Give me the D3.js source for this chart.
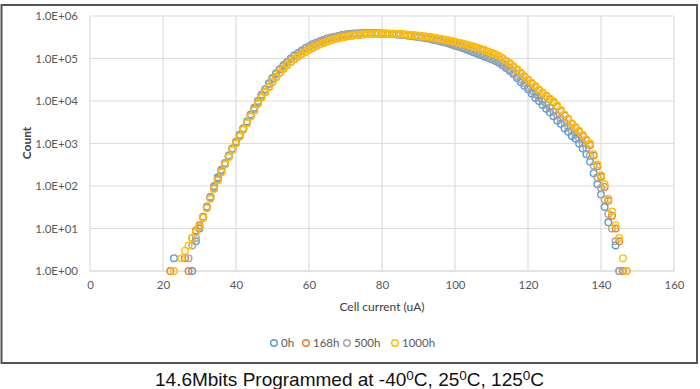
<!DOCTYPE html>
<html>
<head>
<meta charset="utf-8">
<script src="https://cdn.jsdelivr.net/npm/d3@7"></script>
<style>
  body { margin: 0; background: #fff; }
  svg { display: block; }
</style>
</head>
<body>
<svg id="chart" width="700" height="389"></svg>
<script>
// cell current (uA), one point per step
var current = [22,23,24,25,26,27,28,29,30,31,32,33,34,35,36,37,38,39,40,41,42,43,44,45,46,47,48,49,50,
  51,52,53,54,55,56,57,58,59,60,61,62,63,64,65,66,67,68,69,70,71,72,73,74,75,76,77,78,79,80,
  81,82,83,84,85,86,87,88,89,90,91,92,93,94,95,96,97,98,99,100,101,102,103,104,105,106,107,108,109,110,
  111,112,113,114,115,116,117,118,119,120,121,122,123,124,125,126,127,128,129,130,131,132,133,134,135,136,137,138,139,140,
  141,142,143,144,145,146,147];

var count0h = [null,2,null,null,null,null,1,5,10,18,32,56,100,160,240,350,520,760,1100,1600,2300,3300,4800,6900,10000,14000,19000,26000,35000,
  45000,56000,69000,83000,100000,120000,135000,155000,175000,195000,215000,235000,255000,275000,295000,310000,325000,340000,355000,365000,375000,385000,390000,395000,400000,400000,400000,398000,395000,390000,
  385000,380000,375000,370000,363000,355000,347000,339000,331000,320000,310000,300000,290000,278000,265000,252000,240000,227000,214000,200000,188000,176000,164000,152000,141000,131000,121000,112000,104000,96000,
  88000,79000,69000,60000,51000,43000,35000,28000,23000,19000,15000,12000,10000,8100,6600,5400,4400,3500,2900,2300,1900,1500,1300,1000,760,560,370,200,110,63,
  32,14,null,4,1,null,null];

var count168h = [1,null,null,null,2,1,6,9,12,19,31,52,88,140,215,330,490,720,1020,1480,2150,3050,4400,6100,8700,12200,16300,21500,28500,
  36500,46500,58000,70000,83000,97000,111000,127000,144000,162000,180000,198000,216000,234000,252000,269000,286000,301000,315000,328000,339000,349000,357000,364000,370000,375000,378000,381000,383000,384000,
  384000,383000,381000,378000,374000,369000,363000,356000,349000,342000,334000,325000,316000,307000,297000,287000,277000,266000,255000,244000,233000,222000,211000,200000,189000,178000,167000,156000,145000,134000,
  124000,113000,100000,87000,75000,64000,54000,45000,37000,31000,26000,21500,18000,15300,13000,11000,9300,7400,5800,4600,3700,2900,2350,1900,1500,1180,920,520,290,165,
  95,45,20,10,5,1,1];

var count500h = [null,null,null,null,null,2,4,6,11,19,33,55,95,150,230,340,500,740,1080,1550,2250,3200,4600,6600,9500,13500,18500,25000,33000,
  43000,54000,66000,80000,96000,114000,130000,150000,170000,190000,210000,230000,250000,270000,290000,306000,321000,336000,350000,360000,370000,379000,385000,390000,394000,396000,396000,395000,392000,388000,
  384000,379000,374000,369000,363000,356000,349000,342000,334000,325000,316000,306000,296000,285000,273000,261000,249000,237000,225000,212000,200000,188000,176000,164000,153000,142000,132000,122000,113000,104000,
  95000,86000,76000,66000,56000,47000,39000,32000,26000,21000,17500,14500,12000,10000,8300,6900,5700,4700,3800,3100,2500,2000,1650,1300,1000,760,520,300,160,90,
  48,22,10,5,1,null,null];

var count1000h = [null,1,null,2,3,4,6,8,11,18,30,50,85,135,210,320,480,700,1000,1450,2100,3000,4300,6000,8500,12000,16000,21000,28000,
  36000,46000,57000,69000,82000,96000,110000,125000,142000,160000,178000,196000,214000,232000,250000,268000,285000,300000,314000,327000,338000,348000,357000,364000,370000,375000,379000,382000,384000,385000,
  385000,384000,382000,379000,375000,370000,364000,358000,351000,344000,336000,328000,319000,310000,300000,290000,280000,269000,258000,247000,236000,225000,214000,203000,192000,181000,170000,159000,147000,135000,
  126000,115000,102000,89000,78000,66000,56000,47000,39000,32000,27000,22400,18600,15800,13500,11500,9800,7800,6100,4800,3800,3000,2450,2000,1600,1250,1000,560,320,180,
  110,50,25,12,6,2,1];

var seriesNames = ["0h", "168h", "500h", "1000h"];
var seriesCounts = [count0h, count168h, count500h, count1000h];
var seriesColors = ["#5b9bd5", "#ed7d31", "#a5a5a5", "#ffc000"];

var xTicks = [0, 20, 40, 60, 80, 100, 120, 140, 160];
var yTicks = [1, 10, 100, 1000, 10000, 100000, 1000000];

var svg = d3.select("#chart");
var font = "Lato, 'Open Sans', sans-serif";

// chart frame
svg.append("rect")
  .attr("x", 1.5).attr("y", 5)
  .attr("width", 695.5).attr("height", 358)
  .attr("fill", "#fff")
  .attr("stroke", "#555").attr("stroke-width", 2);

var x = d3.scaleLinear().domain([0, 160]).range([90, 674]);
var y = d3.scaleLog().domain([1, 1e6]).range([271, 16]);

// gridlines
svg.append("g").selectAll("line")
  .data(yTicks)
  .join("line")
  .attr("x1", x(0)).attr("x2", x(160))
  .attr("y1", d => y(d)).attr("y2", d => y(d))
  .attr("stroke", d => d === 1 ? "#c8c8c8" : "#dcdcdc")
  .attr("stroke-width", 1.2);

svg.append("g").selectAll("line")
  .data(xTicks)
  .join("line")
  .attr("x1", d => x(d)).attr("x2", d => x(d))
  .attr("y1", y(1e6)).attr("y2", y(1))
  .attr("stroke", "#dcdcdc")
  .attr("stroke-width", 1.2);

// axes (labels only, lines are the gridlines)
var fmt = d => "1.0E+" + String(Math.round(Math.log10(d))).padStart(2, "0");

var yAxis = svg.append("g")
  .attr("transform", "translate(" + x(0) + ",0)")
  .call(d3.axisLeft(y).tickValues(yTicks).tickFormat(fmt).tickSize(0).tickPadding(12));
yAxis.select(".domain").remove();
yAxis.selectAll("text")
  .attr("font-family", font).attr("font-size", 11.5).attr("fill", "#595959");

var xAxis = svg.append("g")
  .attr("transform", "translate(0," + y(1) + ")")
  .call(d3.axisBottom(x).tickValues(xTicks).tickFormat(d3.format("d")).tickSize(0).tickPadding(10));
xAxis.select(".domain").remove();
xAxis.selectAll("text")
  .attr("font-family", font).attr("font-size", 11.5).attr("fill", "#595959");

svg.append("text")
  .attr("transform", "translate(31,143) rotate(-90)")
  .attr("text-anchor", "middle")
  .attr("font-family", font).attr("font-size", 12).attr("font-weight", "bold")
  .attr("fill", "#404040")
  .text("Count");

svg.append("text")
  .attr("x", 382).attr("y", 311)
  .attr("text-anchor", "middle")
  .attr("font-family", font).attr("font-size", 12)
  .attr("fill", "#404040")
  .text("Cell current (uA)");

// markers
seriesCounts.forEach(function(counts, i) {
  var pts = current.map((c, j) => ({ c: c, n: counts[j] })).filter(p => p.n != null);
  svg.append("g")
    .selectAll("circle")
    .data(pts)
    .join("circle")
    .attr("cx", d => x(d.c))
    .attr("cy", d => y(d.n))
    .attr("r", 3.3)
    .attr("fill", "none")
    .attr("stroke", seriesColors[i])
    .attr("stroke-width", 1.4);
});

// legend
var legendX = [274, 306, 347, 395];
var legend = svg.append("g").selectAll("g")
  .data(seriesNames)
  .join("g")
  .attr("transform", (d, i) => "translate(" + legendX[i] + ",343)");
legend.append("circle")
  .attr("r", 3.3)
  .attr("fill", "none")
  .attr("stroke", (d, i) => seriesColors[i])
  .attr("stroke-width", 1.4);
legend.append("text")
  .attr("x", 7).attr("y", 4)
  .attr("font-family", font).attr("font-size", 11.5)
  .attr("fill", "#595959")
  .text(d => d);

// caption under the frame
var cap = svg.append("text")
  .attr("x", 155).attr("y", 386)
  .attr("font-family", "'Liberation Sans', Arial, sans-serif")
  .attr("font-size", 19)
  .attr("fill", "#111");
var parts = ["14.6Mbits Programmed at -40", "0", "C, 25", "0", "C, 125", "0", "C"];
parts.forEach(function(p, i) {
  var sup = i % 2 === 1;
  cap.append("tspan")
    .attr("font-size", sup ? 13.5 : 19)
    .attr("dy", sup ? -6 : (i > 0 ? 6 : 0))
    .text(p);
});
</script>
</body>
</html>
